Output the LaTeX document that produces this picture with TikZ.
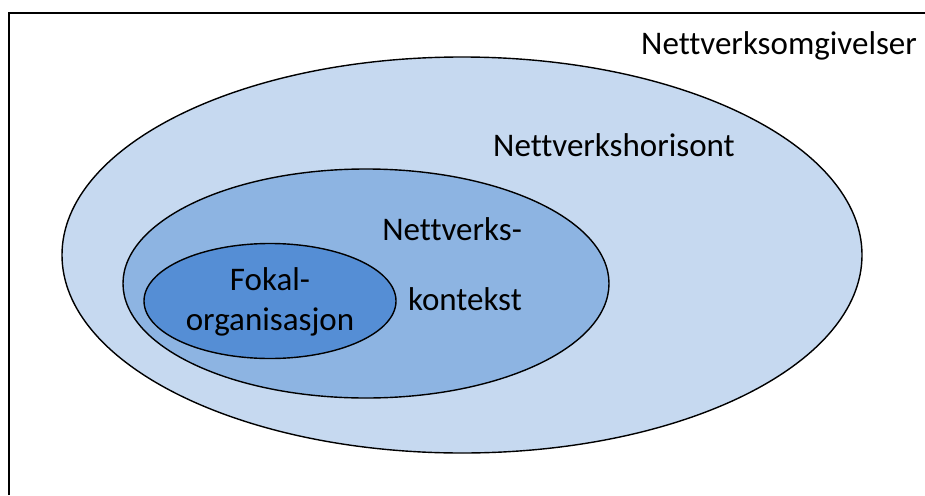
\documentclass[tikz,border=0pt]{standalone}
\usepackage{fontspec}
\setmainfont{Carlito}[Ligatures=NoCommon]
\definecolor{horizonblue}{RGB}{198,217,240}
\definecolor{contextblue}{RGB}{141,180,226}
\definecolor{focalblue}{RGB}{85,142,213}
\usetikzlibrary{shapes, positioning}

\begin{document}
\begin{tikzpicture}[x=1pt, y=-1pt,
  ring/.style={ellipse, draw=black, line width=1.4pt, inner sep=0pt},
  tagtext/.style={inner sep=0pt, font=\fontsize{33}{40}\selectfont}]
  \useasboundingbox (0,0) rectangle (925,495);
  % frame (cut off at right and bottom)
  \coordinate (framebottom) at (8.5,495);
  \coordinate (framecorner) at (8.5,13);
  \coordinate (frametop) at (925,13);
  \draw[line width=2pt] (framebottom) -- (framecorner) -- (frametop);
  % nested ellipses
  \node[ring, fill=horizonblue, minimum width=800pt, minimum height=396pt] (horizon) at (462,255) {};
  \node[ring, fill=contextblue, minimum width=486pt, minimum height=229pt] (context) at (366,283.5) {};
  \node[ring, fill=focalblue, minimum width=252pt, minimum height=115pt] (focal) at (270,301) {};
  % labels
  \node[tagtext, anchor=base east] (surroundings) at (917,55) {Nettverksomgivelser};
  \node[tagtext, anchor=base west] (horizontext) at (493,156) {Nettverkshorisont};
  \node[tagtext, anchor=base east, align=right, font=\fontsize{33}{70}\selectfont] (contexttext) at (522,310) {Nettverks-\\kontekst};
  \node[tagtext, anchor=base, align=center] (focaltext) at (270,330) {Fokal-\\organisasjon};
\end{tikzpicture}
\end{document}
